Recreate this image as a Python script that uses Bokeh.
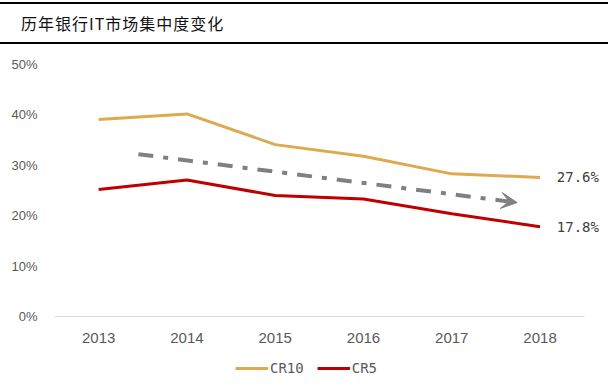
from bokeh.plotting import figure
from bokeh.layouts import column
from bokeh.models import (Range1d, FixedTicker, NumeralTickFormatter, Legend, LegendItem,
                          Arrow, VeeHead, ColumnDataSource, Div)
from bokeh.core.properties import value
from bokeh.embed import file_html
from bokeh.resources import INLINE

title_text = "历年银行IT市场集中度变化"
years = [2013, 2014, 2015, 2016, 2017, 2018]
cr10 = [0.391, 0.402, 0.341, 0.318, 0.283, 0.276]
cr5 = [0.252, 0.271, 0.240, 0.233, 0.204, 0.178]
end_labels = ["27.6%", "17.8%"]
end_values = [0.276, 0.178]
trend_x = [2013.45, 2017.74]
trend_y = [0.322, 0.226]
y_ticks = [0, 0.1, 0.2, 0.3, 0.4, 0.5]

W = 608

header = Div(text=title_text, width=W, height=42, margin=(2, 0, 0, 0),
             styles={"border-top": "2px solid black", "border-bottom": "2px solid black",
                     "font-family": "Noto Sans CJK SC", "font-size": "16px", "color": "#111111",
                     "letter-spacing": "1px",
                     "line-height": "38px", "padding-left": "21px", "box-sizing": "border-box"})

# main chart
p = figure(width=W, height=347, output_backend="svg", toolbar_location=None,
           x_range=Range1d(2012.5, 2018.73), y_range=Range1d(-0.133, 0.5),
           min_border_left=54, min_border_right=4, min_border_top=20, min_border_bottom=8,
           outline_line_color=None, background_fill_color="white", margin=0)
p.grid.visible = False

p.xaxis.ticker = FixedTicker(ticks=years)
p.xaxis.bounds = (2012.5, 2018.5)
p.xaxis.fixed_location = 0
p.xaxis.axis_line_color = "#D9D9D9"
p.xaxis.axis_line_width = 1
p.xaxis.major_tick_line_color = None
p.xaxis.minor_tick_line_color = None
p.xaxis.major_label_text_font = "Liberation Sans"
p.xaxis.major_label_text_font_size = "15px"
p.xaxis.major_label_text_color = "#595959"
p.xaxis.major_label_standoff = 11

p.yaxis.ticker = FixedTicker(ticks=y_ticks)
p.yaxis.bounds = (0, 0.5)
p.yaxis.formatter = NumeralTickFormatter(format="0%")
p.yaxis.axis_line_color = None
p.yaxis.major_tick_line_color = None
p.yaxis.minor_tick_line_color = None
p.yaxis.major_label_text_font = "Liberation Sans"
p.yaxis.major_label_text_font_size = "13px"
p.yaxis.major_label_text_color = "#595959"
p.yaxis.major_label_standoff = 11

src = ColumnDataSource(dict(year=years, cr10=cr10, cr5=cr5))
r10 = p.line("year", "cr10", source=src, line_color="#DEA94F", line_width=3)
r5 = p.line("year", "cr5", source=src, line_color="#C00000", line_width=3)

p.add_layout(Arrow(x_start=trend_x[0], y_start=trend_y[0], x_end=trend_x[1], y_end=trend_y[1],
                   line_color="#808080", line_width=4, line_dash="15 10 5 10",
                   end=VeeHead(size=16, fill_color="#808080", line_color="#808080", line_width=1)))

p.text(x=[years[-1] + 0.19] * 2, y=end_values, text=end_labels,
       text_font=value("DejaVu Sans Mono"), text_font_size="14px", text_color="#404040",
       text_baseline="middle", text_align="left")

legend = Legend(items=[LegendItem(label="CR10", renderers=[r10]),
                       LegendItem(label="CR5", renderers=[r5])],
                orientation="horizontal", location=(181, 7),
                border_line_color=None, background_fill_alpha=0,
                label_text_font="DejaVu Sans Mono", label_text_font_size="14px",
                label_text_color="#595959", glyph_width=33, glyph_height=14,
                label_standoff=2, spacing=13, padding=0, margin=0)
p.add_layout(legend, "center")

layout = column(header, p, spacing=0)
open("out.html", "w").write(file_html(layout, INLINE))
